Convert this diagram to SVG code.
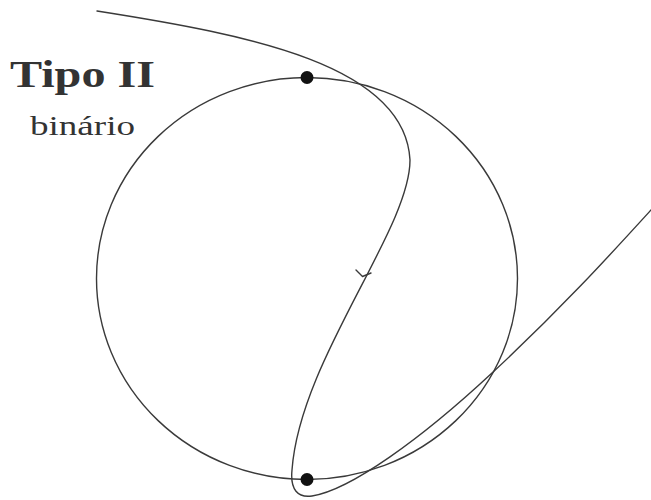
<svg xmlns="http://www.w3.org/2000/svg" width="651" height="500" viewBox="0 0 651 500">
<style>
.ln{fill:none;stroke:#3a3a3a;stroke-width:1.4;stroke-linecap:round;stroke-linejoin:round}
.dot{fill:#111}
.lbl{font-family:"Liberation Serif","DejaVu Serif",serif;fill:#333}
</style>
<rect width="651" height="500" fill="#fff"/>
<g id="orbit-circle">
<ellipse class="ln" cx="307" cy="278.5" rx="210.5" ry="201"/>
</g>
<g id="connectors">
<path id="trajectory" class="ln" d="M97,11 C250,35 405,65 410,160 C410,230 300,360 292,470 C290,490 298,498 312,496 C350,490 420,440 492,373 C560,310 610,255 651,210"/>
<path id="direction-arrow" class="ln" d="M356,270 L362.5,276.5 L371,273"/>
</g>
<g id="dot-top"><circle class="dot" cx="307" cy="77.5" r="6.5"/></g>
<g id="dot-bottom"><circle class="dot" cx="307" cy="479.5" r="6.5"/></g>
<g id="label">
<text class="lbl" x="10" y="87" font-size="37" font-weight="bold" textLength="145" lengthAdjust="spacingAndGlyphs">Tipo II</text>
<text class="lbl" x="30" y="135" font-size="28" textLength="105" lengthAdjust="spacingAndGlyphs">binário</text>
</g>
</svg>
